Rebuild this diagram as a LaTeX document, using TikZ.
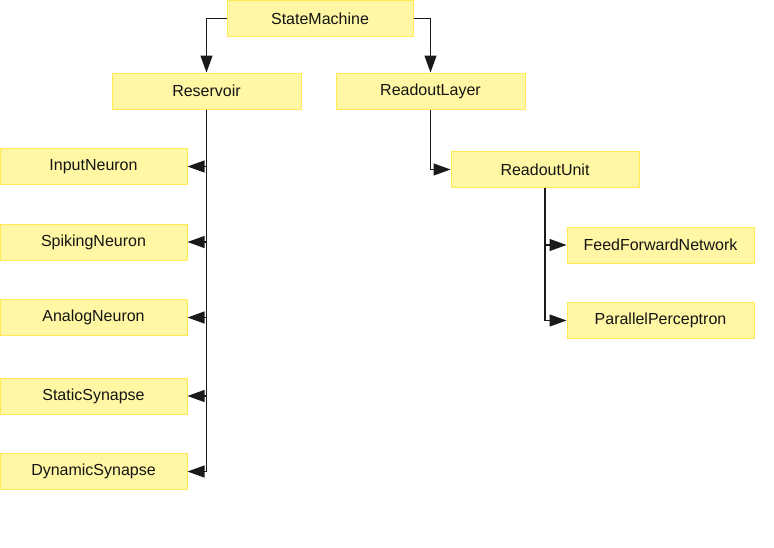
\documentclass[tikz,border=0pt]{standalone}
\usepackage{fontspec}
\setmainfont{Liberation Sans}
\usetikzlibrary{arrows.meta}
\definecolor{boxfill}{HTML}{FFF7A3}
\definecolor{boxline}{HTML}{FFEA55}
\definecolor{wire}{HTML}{1A1A1A}
\tikzset{
  cls/.style={draw=boxline, fill=boxfill, line width=1pt, minimum height=36pt,
    inner sep=0pt, font=\fontsize{16}{19}\selectfont, text=black!92},
  link/.style={draw=wire, line width=1.2pt, -{Triangle[length=17pt,width=12pt]}}
}
\begin{document}
\begin{tikzpicture}[x=1pt,y=-1pt]
\useasboundingbox (0,0) rectangle (774,547);
\node[cls, minimum width=186pt] (sm) at (320,18.5) {StateMachine};
\node[cls, minimum width=189pt] (res) at (206.5,91) {Reservoir};
\node[cls, minimum width=189pt] (rl) at (430.5,91) {ReadoutLayer};
\node[cls, minimum width=187pt] (in) at (93.5,166.5) {InputNeuron};
\node[cls, minimum width=187pt] (sn) at (93.5,242) {SpikingNeuron};
\node[cls, minimum width=187pt] (an) at (93.5,317.5) {AnalogNeuron};
\node[cls, minimum width=187pt] (ss) at (93.5,396) {StaticSynapse};
\node[cls, minimum width=187pt] (ds) at (93.5,471.5) {DynamicSynapse};
\node[cls, minimum width=188pt] (ru) at (545,169.5) {ReadoutUnit};
\node[cls, minimum width=187pt] (ffn) at (660.5,245) {FeedForwardNetwork};
\node[cls, minimum width=187pt] (pp) at (660.5,320.5) {ParallelPerceptron};
\draw[link] (sm.west) -| (res.north);
\draw[link] (sm.east) -| (rl.north);
\foreach \c in {in,sn,an,ss,ds} \draw[link] (res.south) |- (\c.east);
\draw[link] (rl.south) |- (ru.west);
\draw[link] (ru.south) |- (ffn.west);
\draw[link] (ru.south) |- (pp.west);
\end{tikzpicture}
\end{document}
